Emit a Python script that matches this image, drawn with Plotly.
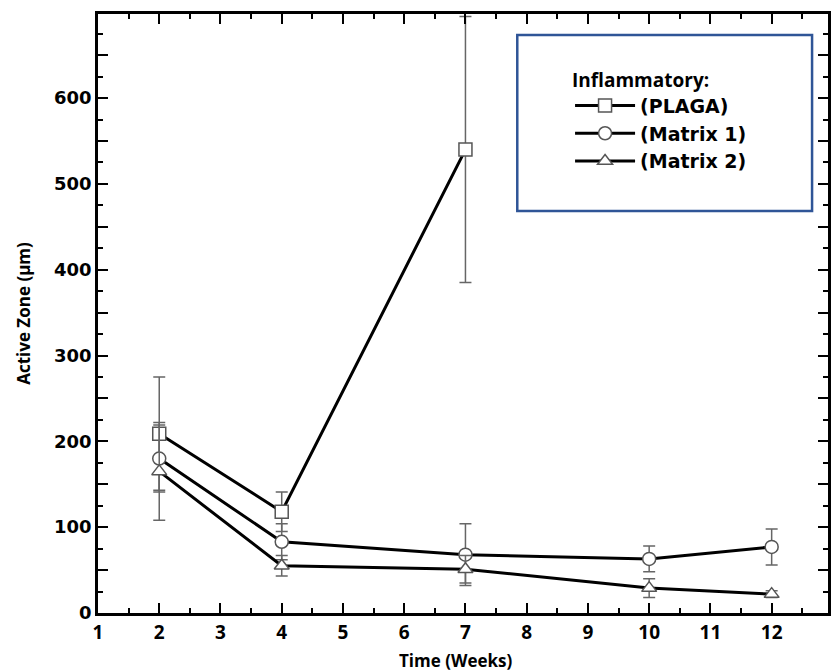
import plotly.graph_objects as go

# ---- data ----
weeks_plaga = [2, 4, 7]
plaga = [209, 118, 540]
plaga_err = [66, 23, 155]

weeks_m1 = [2, 4, 7, 10, 12]
matrix1 = [180, 83, 68, 63, 77]
matrix1_err = [39, 21, 36, 15, 21]

weeks_m2 = [2, 4, 7, 10, 12]
matrix2 = [165, 55, 51, 29, 22]
matrix2_err = [57, 12, 16, 11, 4]

x_ticks = list(range(1, 13))
y_major = list(range(0, 700, 50))
y_labels = [str(v) if v % 100 == 0 else "" for v in y_major]

series = [
    ("(PLAGA)", weeks_plaga, plaga, plaga_err, "square"),
    ("(Matrix 1)", weeks_m1, matrix1, matrix1_err, "circle"),
    ("(Matrix 2)", weeks_m2, matrix2, matrix2_err, "triangle-up"),
]

W, H = 831, 671
ML, MR, MT, MB = 98, 0, 14, 58

fig = go.Figure()
for name, xs, ys, es, sym in series:
    fig.add_trace(go.Scatter(
        x=xs, y=ys, name=name, mode="lines+markers",
        line=dict(color="black", width=3),
        marker=dict(symbol=sym, size=13, color="white",
                    line=dict(color="#555555", width=1.5)),
        error_y=dict(type="data", array=es, visible=True, color="#666666",
                     thickness=1.5, width=6),
    ))

axis_common = dict(
    showline=True, linecolor="black", linewidth=2.5, mirror="ticks",
    ticks="inside", tickcolor="black", tickwidth=2, showgrid=False,
    zeroline=False,
)

fig.update_xaxes(
    **axis_common, range=[1, 12.92], tickmode="array", tickvals=x_ticks,
    ticktext=[str(v) for v in x_ticks], ticklen=10,
    tickfont=dict(family="Open Sans", size=19, color="black", weight="bold"),
    minor=dict(tickmode="linear", tick0=0, dtick=0.5, ticks="inside", ticklen=5,
               tickwidth=2, tickcolor="black", showgrid=False),
)
fig.update_yaxes(
    **axis_common, range=[0, 698], tickmode="array", tickvals=y_major,
    ticktext=y_labels, ticklen=10,
    tickfont=dict(family="DejaVu Sans", size=18, color="black", weight="bold"),
    minor=dict(tickmode="linear", tick0=0, dtick=25, ticks="inside", ticklen=5,
               tickwidth=2, tickcolor="black", showgrid=False),
    title=dict(text="Active Zone (µm)", standoff=20,
               font=dict(family="Open Sans", size=17, color="black", weight="bold")),
)

pw = W - ML - MR
ph = H - MT - MB

fig.add_annotation(text="Time (Weeks)", xref="paper", yref="paper",
                   x=(457 - ML) / pw, y=-(661 - (H - MB)) / ph,
                   xanchor="center", yanchor="middle", showarrow=False,
                   font=dict(family="Open Sans", size=17, color="black", weight="bold"))

fig.add_shape(type="rect", xref="paper", yref="paper",
              x0=(519 - ML) / pw, x1=(815 - ML) / pw,
              y0=(H - MB - 211) / ph, y1=(H - MB - 35) / ph,
              line=dict(color="#2F5597", width=2.5), fillcolor="white", layer="below")

fig.update_layout(
    width=W, height=H,
    margin=dict(l=ML, r=MR, t=MT, b=MB),
    paper_bgcolor="white", plot_bgcolor="white",
    showlegend=True,
    legend=dict(
        x=(572 - ML) / pw, y=(H - MB - 62) / ph, xanchor="left", yanchor="top",
        bgcolor="rgba(0,0,0,0)", borderwidth=0,
        title=dict(text="Inflammatory:",
                   font=dict(family="Open Sans", size=19, color="black", weight="bold")),
        font=dict(family="DejaVu Sans", size=19, color="black", weight="bold"),
        itemwidth=60, tracegroupgap=0,
    ),
)

fig.write_html("out.html")
